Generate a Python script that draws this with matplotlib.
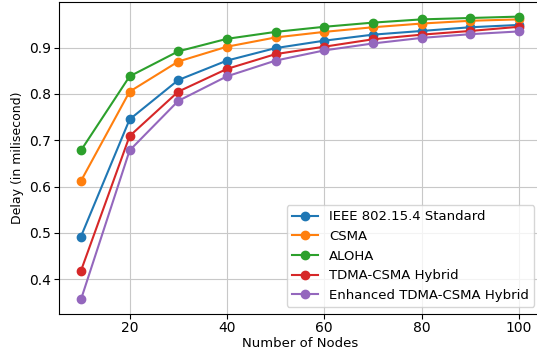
import matplotlib
matplotlib.use("Agg")
import matplotlib.pyplot as plt

nodes = [10, 20, 30, 40, 50, 60, 70, 80, 90, 100]

ieee_802154 = [0.492, 0.745, 0.830, 0.872, 0.899, 0.915, 0.928, 0.936, 0.944, 0.949]
csma = [0.612, 0.805, 0.870, 0.902, 0.922, 0.934, 0.944, 0.952, 0.958, 0.961]
aloha = [0.678, 0.838, 0.892, 0.919, 0.934, 0.945, 0.954, 0.961, 0.964, 0.967]
tdma_csma = [0.418, 0.709, 0.805, 0.854, 0.886, 0.902, 0.918, 0.928, 0.936, 0.945]
enhanced_tdma_csma = [0.356, 0.678, 0.785, 0.838, 0.872, 0.894, 0.909, 0.921, 0.929, 0.935]

series = [
    ("IEEE 802.15.4 Standard", ieee_802154),
    ("CSMA", csma),
    ("ALOHA", aloha),
    ("TDMA-CSMA Hybrid", tdma_csma),
    ("Enhanced TDMA-CSMA Hybrid", enhanced_tdma_csma),
]

fig = plt.figure(figsize=(5.37, 3.52), dpi=100)
ax = fig.add_axes([0.110, 0.109, 0.897, 0.884])

for label, values in series:
    ax.plot(nodes, values, marker="o", markersize=6, label=label)

ax.set_xlabel("Number of Nodes", fontsize=9.5, labelpad=1)
ax.set_ylabel("Delay (in milisecond)", fontsize=9)
ax.tick_params(labelsize=10, pad=2)
ax.grid(True, color="#c8c8c8")
ax.legend(loc="lower right", fontsize=9.5)

fig.savefig("out.png", dpi=100)
